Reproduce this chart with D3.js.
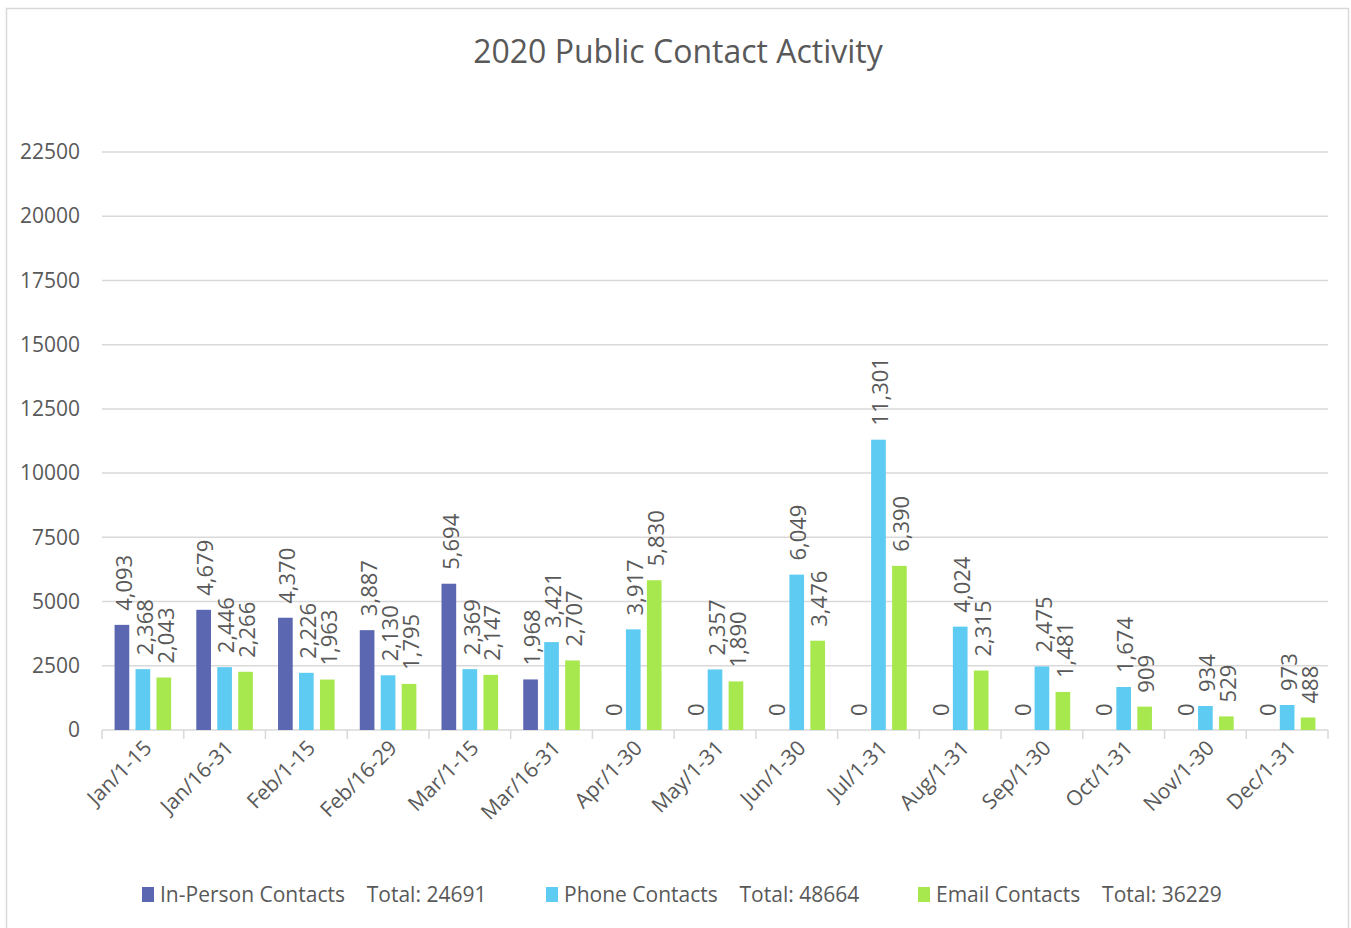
<!DOCTYPE html>
<html>
<head>
<meta charset="utf-8">
<script src="https://cdn.jsdelivr.net/npm/d3@7/dist/d3.min.js"></script>
<style>
  html, body { margin: 0; padding: 0; background: #fff; }
  svg text { font-family: "Open Sans", "Noto Sans", sans-serif; fill: #595959; }
</style>
</head>
<body>
<svg id="chart" width="1351" height="928"></svg>
<script>
const categories = ["Jan/1-15","Jan/16-31","Feb/1-15","Feb/16-29","Mar/1-15","Mar/16-31","Apr/1-30","May/1-31","Jun/1-30","Jul/1-31","Aug/1-31","Sep/1-30","Oct/1-31","Nov/1-30","Dec/1-31"];
const seriesNames = ["In-Person Contacts","Phone Contacts","Email Contacts"];
const seriesTotals = ["Total: 24691","Total: 48664","Total: 36229"];
const inPerson = [4093,4679,4370,3887,5694,1968,0,0,0,0,0,0,0,0,0];
const phone    = [2368,2446,2226,2130,2369,3421,3917,2357,6049,11301,4024,2475,1674,934,973];
const email    = [2043,2266,1963,1795,2147,2707,5830,1890,3476,6390,2315,1481,909,529,488];
const yTicks = [0,2500,5000,7500,10000,12500,15000,17500,20000,22500];
const colors = ["#5B67B0","#5DCBF2","#A8E84F"];
const titleText = "2020 Public Contact Activity";

const series = [inPerson, phone, email];
const svg = d3.select("#chart");
const m = {left: 102, right: 1328, top: 152, bottom: 730};

// outer border
svg.append("rect").attr("x", 6.5).attr("y", 8.5).attr("width", 1342).attr("height", 930)
  .attr("fill", "#fff").attr("stroke", "#D9D9D9").attr("stroke-width", 1.5);

svg.append("text").attr("x", 678).attr("y", 63).attr("text-anchor", "middle")
  .style("font-size", "32px").text(titleText);

const x0 = d3.scaleBand().domain(categories).range([m.left, m.right]).paddingInner(0).paddingOuter(0);
const x1 = d3.scaleBand().domain([0,1,2]).range([0, x0.bandwidth()]).paddingInner(0.3).paddingOuter(0.6);
const y = d3.scaleLinear().domain([0, 22500]).range([m.bottom, m.top]);

// gridlines
svg.append("g").selectAll("line").data(yTicks.filter(d => d > 0)).join("line")
  .attr("x1", m.left).attr("x2", m.right)
  .attr("y1", d => y(d)).attr("y2", d => y(d))
  .attr("stroke", "#D9D9D9").attr("stroke-width", 1.5);

// y axis labels
const yAxis = d3.axisLeft(y).tickValues(yTicks).tickSize(0).tickPadding(22).tickFormat(d3.format("d"));
const gy = svg.append("g").attr("transform", `translate(${m.left},0)`).call(yAxis);
gy.select(".domain").remove();
gy.selectAll("text").style("font-size", "21px").attr("fill", "#595959").style("font-family", '"Open Sans", sans-serif');

// x axis
const gx = svg.append("g").attr("transform", `translate(0,${m.bottom})`);
gx.append("line").attr("x1", m.left).attr("x2", m.right).attr("y1", 0).attr("y2", 0)
  .attr("stroke", "#D9D9D9").attr("stroke-width", 1.5);
const bounds = categories.map(c => x0(c)).concat([m.right]);
gx.selectAll("line.tk").data(bounds).join("line").attr("class", "tk")
  .attr("x1", d => d).attr("x2", d => d).attr("y1", 0).attr("y2", 9)
  .attr("stroke", "#D9D9D9").attr("stroke-width", 1.5);
gx.selectAll("text").data(categories).join("text")
  .attr("transform", d => `translate(${x0(d) + x0.bandwidth()/2 + 5},${14}) rotate(-45)`)
  .attr("text-anchor", "end").attr("dy", "0.35em")
  .style("font-size", "21px").text(d => d);

// bars
const groups = svg.append("g").selectAll("g").data(categories).join("g")
  .attr("transform", d => `translate(${x0(d)},0)`);
series.forEach((vals, si) => {
  groups.append("rect")
    .attr("x", x1(si)).attr("width", x1.bandwidth())
    .attr("y", (d, i) => y(vals[i])).attr("height", (d, i) => m.bottom - y(vals[i]))
    .attr("fill", colors[si]);
  groups.append("text")
    .attr("transform", (d, i) => `translate(${x1(si) + x1.bandwidth()/2 + 2},${y(vals[i]) - 14}) rotate(-90)`)
    .attr("text-anchor", "start").attr("dy", "0.35em")
    .style("font-size", "22px")
    .text((d, i) => d3.format(",")(vals[i]));
});

// legend
const legendX = [142, 546, 918];
const lg = svg.append("g").selectAll("g").data(seriesNames).join("g")
  .attr("transform", (d, i) => `translate(${legendX[i]},887)`);
lg.append("rect").attr("width", 12).attr("height", 15).attr("fill", (d, i) => colors[i]);
lg.append("text").attr("x", 18).attr("y", 7.5).attr("dy", "0.35em")
  .style("font-size", "21px").style("white-space", "pre")
  .text((d, i) => d + "    " + seriesTotals[i]);
</script>
</body>
</html>
